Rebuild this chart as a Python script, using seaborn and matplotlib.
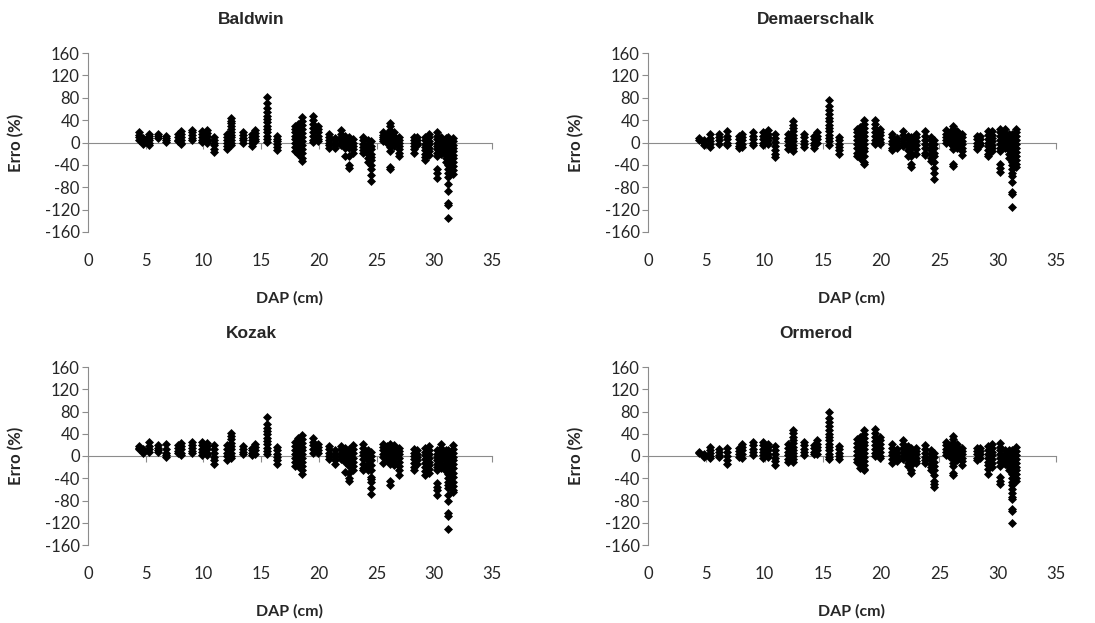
import pandas as pd
import seaborn as sns
import matplotlib.pyplot as plt

# DAP classes (cm), shared by the four models
dap_cols = [4.4, 4.8, 5.3, 6.1, 6.8, 7.8, 8.1, 9.0, 9.9, 10.3, 10.9, 12.0, 12.4, 13.4,
            14.2, 14.5, 15.5, 16.4, 17.9, 18.2, 18.5, 19.5, 19.9, 20.9, 21.4, 21.9,
            22.3, 22.6, 23.0, 23.8, 24.3, 24.5, 25.6, 25.9, 26.2, 26.5, 26.9, 28.2,
            28.5, 29.2, 29.5, 30.2, 30.6, 31.0, 31.2, 31.4, 31.6]

# erro (%) per DAP class
baldwin = [
    [18, 14, 9, 5], [8, 3, -3], [16, 12, 8, 4, 0, -5], [16, 12, 8], [12, 8, 4, 1],
    [15, 10, 5, 2], [20, 15, 10, 5, 0, -3], [23, 18, 13, 8, 4], [20, 15, 10, 5, 1],
    [22, 17, 12, 7, 2, -1], [10, 5, 0, -5, -11, -17], [15, 10, 5, 0, -6, -12],
    [44, 39, 34, 29, 24, 19, 14, 9, 4, 0, -4], [18, 13, 8, 4, 0], [15, 10, 5, 0, -7],
    [22, 17, 12, 7, 2], [82, 70, 62, 55, 48, 42, 36, 30, 24, 18, 12, 6, 1],
    [12, 7, 2, -3, -8, -14], [30, 24, 18, 12, 6, 0, -8, -16],
    [33, 27, 21, 15, 9, 3, -4, -11, -20], [45, 38, 31, 24, 17, 10, 3, -4, -11, -18, -28, -33],
    [47, 40, 33, 26, 19, 12, 5, 1], [30, 24, 18, 12, 6, 2], [15, 10, 5, 0, -5, -10],
    [8, 4, 0, -5, -10], [22, 16, 10, 5, 0, -5], [12, 7, 2, -4, -10, -25],
    [10, 4, -3, -10, -25, -40, -45], [6, 0, -6, -12, -18], [10, 4, -2, -8, -14, -19],
    [4, -2, -8, -14, -21, -28, -35], [2, -6, -12, -20, -26, -32, -40, -48, -58, -68],
    [18, 14, 10, 6, 2], [15, 10, 5, 0], [35, 29, 23, 17, 11, 5, -1, -8, -15, -43, -47],
    [18, 12, 6, 0, -6], [10, 5, 0, -6, -12, -18, -25], [10, 5, 0, -6, -12, -18],
    [10, 5, 0, -5], [10, 4, -2, -8, -14, -20, -26, -32], [15, 9, 3, -3, -9, -15, -22],
    [18, 12, 6, 0, -6, -12, -18, -24, -48, -55, -63], [10, 4, -2, -8, -14, -20],
    [8, 2, -4, -10, -16, -22, -28, -34],
    [10, 4, -2, -8, -14, -20, -27, -34, -41, -48, -55, -62, -75, -86, -108, -112, -135],
    [5, -1, -7, -13, -19, -25, -32], [8, 2, -4, -10, -16, -22, -28, -35, -42, -50, -57],
]

demaerschalk = [
    [8, 5], [5, 0, -5], [16, 8, 3, -3, -8], [15, 9, 4, -2], [20, 12, 6, 0, -5],
    [12, 6, 0, -6, -10], [15, 10, 4, -2, -8], [18, 12, 6, 0, -5], [18, 12, 6, 0, -5],
    [22, 16, 10, 4, -2], [15, 8, 1, -6, -13, -20, -26], [15, 8, 2, -5, -12],
    [38, 32, 26, 20, 14, 8, 2, -4, -10, -15], [15, 9, 3, -3, -8], [12, 6, 0, -5, -10],
    [18, 12, 6, 0], [76, 65, 58, 51, 44, 38, 32, 26, 20, 14, 8, 2, -4],
    [10, 4, -2, -8, -14, -20], [25, 18, 11, 4, -3, -10, -18, -24],
    [28, 21, 14, 7, 0, -7, -14, -20, -28], [40, 33, 26, 19, 12, 5, -2, -9, -16, -24, -35, -39],
    [40, 33, 26, 19, 12, 5, 0, -3], [25, 19, 13, 7, 1, -3], [15, 9, 3, -3, -9, -13],
    [8, 2, -4, -10], [20, 13, 6, 0, -7], [12, 6, 0, -7, -14, -25],
    [10, 4, -3, -10, -18, -25, -38, -43], [16, 9, 2, -5, -12, -20],
    [20, 12, 5, -2, -10, -18, -22], [10, 4, -2, -8, -14, -20, -27, -33],
    [5, -2, -10, -18, -25, -35, -45, -55, -65], [22, 16, 10, 4, -1], [18, 12, 6, 0],
    [30, 24, 18, 12, 6, 0, -6, -12, -38, -42], [20, 14, 8, 2, -4, -10],
    [15, 9, 3, -3, -9, -15, -23], [12, 6, 0, -6, -12], [12, 6, 0, -5],
    [20, 13, 6, 0, -7, -14, -20, -25], [20, 14, 8, 2, -4, -10, -16],
    [25, 18, 11, 4, -3, -10, -16, -38, -45, -52], [25, 17, 10, 3, -4, -10],
    [15, 8, 1, -6, -13, -20, -27],
    [15, 8, 1, -6, -13, -20, -27, -34, -41, -48, -55, -60, -70, -88, -92, -115],
    [10, 3, -4, -11, -18, -25, -32], [25, 18, 11, 4, -3, -10, -17, -24, -31, -38, -43],
]

kozak = [
    [18, 15, 12], [12, 8, 5], [25, 18, 12, 8], [20, 15, 10, 7], [22, 12, 6, 2, -2],
    [20, 14, 9, 5], [24, 18, 12, 6, 2], [26, 20, 14, 9, 5], [25, 19, 13, 7, 2],
    [24, 18, 12, 6, 2], [20, 12, 5, -2, -8, -14], [20, 13, 6, 0, -8],
    [42, 36, 30, 24, 18, 12, 6, 0, -3], [18, 12, 7, 3], [15, 10, 5, 1],
    [22, 16, 10, 4], [70, 58, 51, 45, 39, 33, 27, 21, 15, 9, 3],
    [16, 10, 4, -2, -8, -14], [25, 18, 11, 4, -3, -10, -18],
    [32, 25, 18, 11, 4, -3, -10, -18], [38, 31, 24, 17, 10, 3, -4, -11, -18, -26, -32],
    [33, 26, 19, 12, 5], [22, 16, 10, 5], [18, 12, 6, 0, -6],
    [10, 4, -2, -8, -15], [18, 12, 6, 0, -6], [15, 9, 3, -3, -10, -28],
    [12, 6, 0, -8, -18, -30, -40, -45], [20, 12, 5, -3, -10, -18, -25],
    [22, 15, 8, 1, -6, -14, -22, -25], [10, 4, -2, -8, -14, -20, -26],
    [8, 0, -8, -16, -25, -38, -42, -47, -58, -68], [22, 16, 10, 4, -2, -12],
    [18, 12, 6, 0, -5], [22, 16, 10, 4, -2, -8, -14, -45, -52],
    [20, 14, 8, 2, -4, -10, -17], [15, 9, 3, -3, -10, -18, -26, -35],
    [12, 6, 0, -6, -12, -19, -26], [10, 4, -2, -8, -15],
    [15, 8, 1, -6, -13, -20, -27, -35], [18, 11, 4, -3, -10, -17, -24, -30],
    [10, 4, -2, -8, -14, -20, -25, -48, -55, -62, -70], [22, 14, 7, 0, -7, -14, -22],
    [10, 4, -2, -8, -14, -20, -27],
    [10, 3, -4, -11, -18, -25, -32, -39, -46, -53, -57, -70, -80, -102, -107, -132],
    [8, 2, -4, -10, -17, -24, -31, -38],
    [20, 13, 6, -1, -8, -15, -22, -30, -38, -46, -54, -62, -65],
]

ormerod = [
    [8, 5], [3, 0, -2], [16, 10, 5, 0, -3], [12, 7, 2, -2], [14, 7, 0, -7, -14],
    [15, 9, 4, -1], [22, 16, 10, 4, -3], [25, 19, 13, 7, 1], [25, 19, 13, 7, 1, -4],
    [22, 16, 10, 4, -2], [18, 11, 4, -3, -9, -16], [22, 15, 8, 2, -5, -10],
    [47, 41, 35, 29, 23, 17, 11, 5, 0, -6, -10], [25, 19, 13, 7, 2], [20, 14, 8, 3],
    [28, 22, 16, 10, 4], [80, 68, 61, 54, 47, 40, 34, 28, 22, 16, 10, 4, -2, -5],
    [18, 12, 6, 0, -5], [30, 23, 16, 9, 2, -5, -10],
    [35, 28, 21, 14, 7, 0, -7, -14, -22], [47, 40, 33, 26, 19, 12, 5, -2, -9, -16, -23, -26],
    [48, 41, 34, 27, 20, 13, 6, 0], [35, 28, 21, 14, 7, 0, -3], [22, 15, 8, 1, -6, -12],
    [12, 6, 0, -6, -9], [28, 21, 14, 7, 0, -6], [18, 12, 6, 0, -6, -12, -18],
    [15, 9, 3, -3, -10, -17, -25, -31], [15, 9, 3, -3, -9, -12],
    [20, 12, 5, -2, -8, -12], [10, 4, -2, -8, -14, -20, -26],
    [6, -2, -10, -18, -25, -35, -45, -50, -55], [25, 19, 13, 7, 1],
    [20, 14, 8, 2, -2], [36, 30, 24, 18, 12, 6, 0, -6, -12, -18, -30, -35],
    [22, 16, 10, 4, -2, -8], [15, 9, 3, -3, -9, -16], [15, 9, 3, -3, -8],
    [15, 9, 3, -3], [18, 11, 4, -3, -10, -17, -24, -32], [22, 15, 8, 1, -6, -13, -20],
    [24, 17, 10, 3, -4, -11, -18, -38, -45, -50], [10, 4, -2, -8, -14],
    [10, 4, -2, -8, -14, -20, -26],
    [10, 3, -4, -11, -18, -25, -32, -39, -46, -53, -60, -67, -74, -78, -95, -98, -120],
    [10, 4, -2, -8, -14, -20, -26], [16, 9, 2, -5, -12, -19, -26, -33, -40, -45],
]

yticks = [-160, -120, -80, -40, 0, 40, 80, 120, 160]
xticks = [0, 5, 10, 15, 20, 25, 30, 35]

panels = [("Baldwin", baldwin), ("Demaerschalk", demaerschalk),
          ("Kozak", kozak), ("Ormerod", ormerod)]

sns.set_style("white")
plt.rcParams['font.family'] = ['Lato', 'DejaVu Sans']
plt.rcParams['axes.unicode_minus'] = False

W, H = 1095, 623
fig = plt.figure(figsize=(W / 100, H / 100), dpi=100)

# axes boxes in pixels: left, top, right, bottom
boxes = [(88, 53, 492, 232), (648, 53, 1056, 232),
         (88, 367, 492, 545), (648, 367, 1056, 545)]
title_x = [0.405, 0.411, 0.405, 0.411]

grey = '#8c8c8c'
for (name, vals), (l, t, r, b), tx in zip(panels, boxes, title_x):
    ax = fig.add_axes([l / W, 1 - b / H, (r - l) / W, (b - t) / H])
    df = pd.DataFrame([(x, y) for x, col in zip(dap_cols, vals) for y in col],
                      columns=['dap', 'erro'])
    sns.scatterplot(data=df, x='dap', y='erro', ax=ax, marker='D', color='black',
                    s=21, linewidth=0, legend=False, zorder=3)
    ax.set_xlim(0, 35)
    ax.set_ylim(-160, 160)
    ax.set_yticks(yticks)
    ax.set_xticks(xticks)

    ax.spines['top'].set_visible(False)
    ax.spines['right'].set_visible(False)
    ax.spines['left'].set_color(grey)
    ax.spines['bottom'].set_color(grey)
    ax.spines['bottom'].set_position(('data', 0))
    ax.spines['bottom'].set_zorder(1)

    ax.tick_params(axis='y', direction='out', length=4, width=0.8, color=grey,
                   labelsize=12, pad=2, left=True)
    ax.tick_params(axis='x', direction='out', length=4, width=0.8, color=grey,
                   labelbottom=False, bottom=True)

    sec = ax.secondary_xaxis(0)
    sec.set_xticks(xticks)
    sec.spines['bottom'].set_visible(False)
    sec.tick_params(axis='x', length=0, labelsize=12, pad=15)

    ax.set_xlabel('')
    sec.set_xlabel('DAP (cm)', fontsize=11.5, fontweight='bold', labelpad=16)
    ax.set_ylabel('Erro (%)', fontsize=12, fontweight='bold')
    ax.yaxis.set_label_coords(-64 / (r - l), 0.5)

    ax.text(tx, 1 + 33 / (b - t), name, transform=ax.transAxes, ha='center',
            va='center', fontsize=12.5, fontweight='bold', family='Liberation Sans')

fig.savefig('out.png', dpi=100)
